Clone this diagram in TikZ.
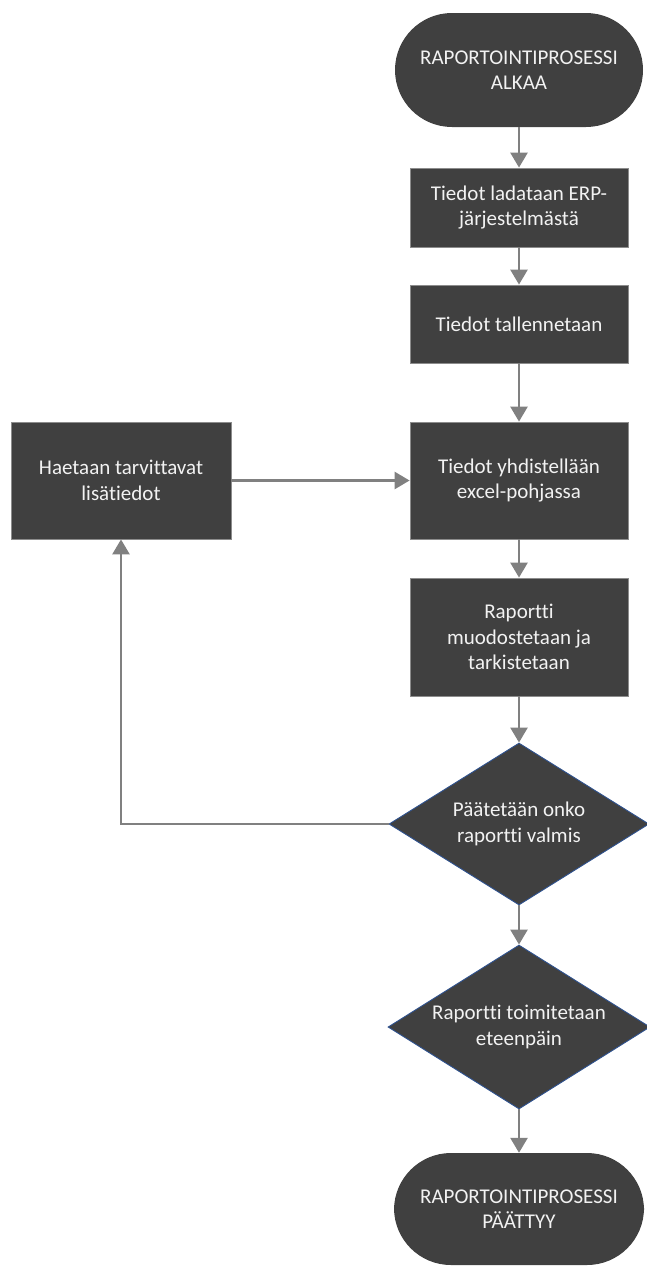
\documentclass[tikz,border=0pt]{standalone}
\usepackage{fontspec}
\setmainfont{Carlito}[Ligatures=NoCommon]
\usetikzlibrary{shapes.geometric,arrows.meta}
\definecolor{boxfill}{HTML}{404040}
\definecolor{boxline}{HTML}{8C8C8C}
\definecolor{arrowgray}{HTML}{808080}
\definecolor{dline}{HTML}{2F528F}
\definecolor{txt}{HTML}{F2F2F2}
\tikzset{
  base/.style={fill=boxfill, text=txt, align=center, inner sep=0pt,
    font=\fontsize{21}{25.5}\selectfont},
  terminal/.style={base, rectangle, rounded corners=57pt, minimum width=248pt, minimum height=114pt},
  procbox/.style={base, rectangle, draw=boxline, line width=0.8pt, minimum width=218pt},
  decision/.style={base, diamond, draw=dline, line width=0.9pt, aspect=1.6},
  flow/.style={draw=arrowgray, line width=2.6pt, -{Triangle[width=17pt,length=15pt]}}
}
\begin{document}
\begin{tikzpicture}[x=1pt,y=-1pt]
\useasboundingbox (0,0) rectangle (646,1266);
\node[terminal] (start) at (519,70) {RAPORTOINTIPROSESSI\\ALKAA};
\node[procbox, minimum height=79pt] (b1) at (519,207.5) {Tiedot ladataan ERP-\\järjestelmästä};
\node[procbox, minimum height=78pt] (b2) at (519,324) {Tiedot tallennetaan};
\node[procbox, minimum height=117pt] (b3) at (519,480.5) {Tiedot yhdistellään\\excel-pohjassa};
\node[procbox, minimum width=220pt, minimum height=117pt] (lb) at (121,480.5) {Haetaan tarvittavat\\lisätiedot};
\node[procbox, minimum height=118pt] (b4) at (519,637) {Raportti\\muodostetaan ja\\tarkistetaan};
\node[decision, minimum width=260pt, minimum height=162pt] (d1) at (519,824) {Päätetään onko\\raportti valmis};
\node[decision, minimum width=262pt, minimum height=164pt] (d2) at (519,1027) {Raportti toimitetaan\\eteenpäin};
\node[terminal, minimum width=250pt, minimum height=112pt] (stop) at (519,1209) {RAPORTOINTIPROSESSI\\PÄÄTTYY};
\draw[flow] (start.south) -- (b1.north);
\draw[flow] (b1.south) -- (b2.north);
\draw[flow] (b2.south) -- (b3.north);
\draw[flow] (b3.south) -- (b4.north);
\draw[flow] (b4.south) -- (d1.north);
\draw[flow] (d1.south) -- (d2.north);
\draw[flow] (d2.south) -- (stop.north);
\draw[flow] (lb.east) -- (b3.west);
\draw[flow] (d1.west) -| (lb.south);
\end{tikzpicture}
\end{document}
